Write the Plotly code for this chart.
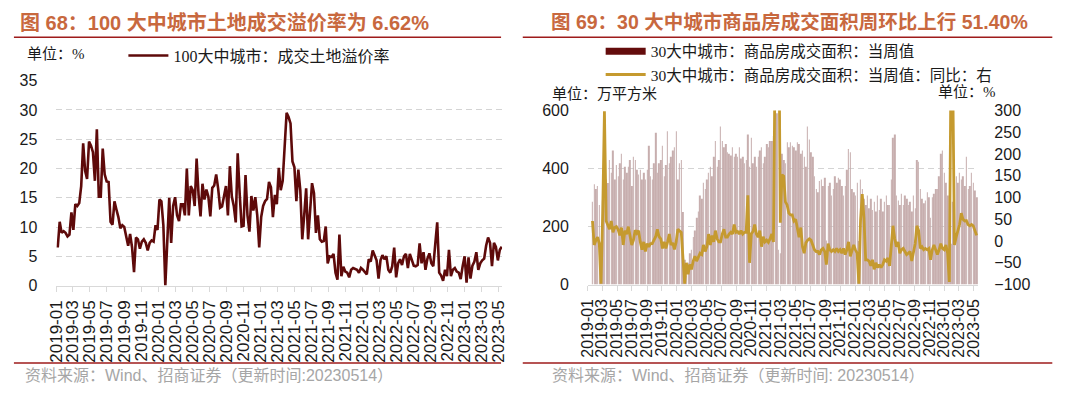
import pandas as pd
import plotly.graph_objects as go

W, H = 1080, 396


def px(x):
    return x / W


def py(y):
    return 1 - y / H


# ---------------- data ----------------
# Left: 100 large & medium cities, land transaction premium rate (%), weekly
premium_pct = [
    6.5, 10.9, 9, 9.3, 9, 8.4, 8.7, 12.5, 9.5, 13.9, 13.6, 14.1, 17, 24.3, 19.6, 18.2, 24.6, 23.9, 22.8, 17.9,
    26.7, 15.2, 15.2, 23.4, 19, 17.8, 17.7, 10.9, 10.4, 14.4, 13, 11.7, 9.8, 10.3, 10, 8.2, 6.8, 8.8, 6.5, 2.3,
    8.2, 7.9, 6.3, 7.5, 7.9, 7.3, 6, 7.3, 7.7, 7.5, 10.3, 9.5, 14.7, 14.4, 10.3, 0,
    8.2, 15, 7.3, 13.6, 15.1, 12, 11, 13.9, 13.9, 12, 20, 12, 17, 16.3, 13.6, 21.7, 15.5, 11.8, 17.4, 14.7,
    16.4, 15.2, 11.8, 16.7, 17.1, 19, 16.6, 13.3, 13.5, 15.2, 17, 12, 20.4, 15.2, 13.6, 10.8, 22.6, 15.8, 10.1, 10.2,
    18.9, 12, 9.2, 15.3, 12.8, 15.1, 12, 6.5, 11.7, 13.6, 14.4, 14.8, 17.7, 16.8, 11.7,
    15.5, 13.9, 20.1, 16.3, 17.9, 22.8, 29.5, 28.8, 27.7, 21.2, 20.2, 14.4, 19.8, 16.3, 7.9, 12, 16.6, 7.9, 12.5, 17.5,
    15.8, 9, 12, 7.9, 7.5, 7.6, 10.1, 3.8, 5, 4.9, 5.4, 2.2, 1, 8.7, 1.6, 3.2, 2.4, 2.2, 1.4, 2.7,
    3, 2.8, 2.7, 2.2, 3, 2.7, 2.2, 1.9, 4.5, 4.1, 6, 5.2,
    4.3, 1.2, 4.3, 5.2, 4.5, 5, 2.7, 2.2, 3.3, 6.5, 1.4, 3.8, 4.5, 3.5, 5, 5.4, 3, 5.4, 4.3, 3.4,
    3.3, 3.5, 7.2, 3.8, 5.7, 2.7, 4.6, 5.5, 3.8, 3.3, 7.1, 10.8, 2.2, 1.7, 0.8, 2.7, 1.6, 6.1, 1.6, 2.7,
    3, 2.4, 2.2, 1.1, 3.3, 5, 0.5, 4.8, 1.2, 3.4, 4.1, 5.7, 2.7, 3.8, 4.3, 4.6, 6.8, 8.2, 7.3, 3.3,
    7.3, 6.6, 4.3, 6.1, 6.62,
]

# Right: 30 large & medium cities, weekly commodity housing transaction area (10k m2)
area_wan_m2 = [
    285, 346, 329, 340, 274, 60, 290, 300,
    362, 350, 429, 385, 462, 362, 412, 373, 418, 451, 362, 406, 385, 406, 429, 340, 440, 429,
    396, 379, 396, 362, 385, 362, 396, 478, 373, 362,
    418,
    523, 385, 418, 429, 478, 373, 412, 528, 418, 440, 462, 473, 528, 362, 418, 429, 250, 86, 31, 75,
    108, 120, 164, 186, 230, 252, 307, 296, 351, 329, 362, 385, 406, 373, 440, 495, 406, 429, 545, 495,
    473, 484, 456, 451, 445, 473, 440, 451, 440, 473, 434, 440, 418, 429, 517, 406, 506, 418, 440, 406,
    440, 462, 473, 418, 440, 484, 473, 495, 495, 512,
    600, 590, 120, 108,
    451, 429, 418, 490, 473, 490, 478, 473, 462, 490, 484, 451, 462,
    440, 406, 545, 500, 456, 440, 373, 329, 318, 357, 362, 340, 368, 152, 340, 351, 307, 329,
    373, 351, 368, 362, 340, 307, 340, 396, 467, 456, 329, 318, 307, 351,
    150, 362, 329, 296, 274, 307, 263, 296, 257, 285, 252, 307, 257, 296, 252, 285, 307, 274, 274, 362,
    506, 517, 307, 290, 274, 313, 274, 307, 296, 274, 285, 252, 307, 263, 429, 423, 329, 296, 280, 290,
    318, 301, 230, 301, 313, 329, 329, 373, 451, 462, 385, 351, 307, 53, 141, 285, 329, 373, 351, 385,
    362, 373, 340, 440, 329, 340, 385, 351, 324, 301,
]

# Right: year-on-year change of the weekly value (%), right axis
yoy_pct = [
    46, -9, 2, 9, -6, -98, 68, 298,
    46, 38, 27, 46, 20, 31, 33, 27, 13, 31, -9, 24, 16, 33, 13, -9, 2, 25,
    18, 24, -2, -20, -2, -24, -6, -13, -6, -6,
    2,
    10, 27, 10, 5, -17, -2, -17, -2, 16, -9, -4, -19, -2, 27, 24, 20, -39, -98, -50, -76,
    -54, -65, -46, -35, -46, -35, -28, -31, -9, -24, -13, 16, -9, 13, -2, 24, 5, -2, -2, 16,
    27, 9, 9, 16, 20, 16, 38, 20, 22, 16, 24, 16, 20, 20, 105, -50, 16, 22, 38, 16,
    9, 24, -13, 10, -2, 2, -3, 5, 16, -2,
    420, 900, 600, 42,
    152, 149, 90, 83, 64, 60, 60, 46, 50, 24, 9, 31, -13,
    -28, -4, 2, 5, 2, -9, -20, -24, -24, -31, -20, -17, -24, -54, -6, -20, -24, -20,
    -24, -17, -24, -20, -28, -17, -31, -20, -2, -35, -20, -9, -20, -28,
    -98, 46, 108, 53, -43, -43, -46, -57, -43, -65, -50, -61, -54, -61, -54, -43, -46, -39, -57, -6,
    35, 6, -13, -2, -28, -20, -17, -24, -31, -28, -24, -46, -24, -6, 35, 24, -17, -13, -20, -17,
    -20, -17, -43, -20, -9, -20, -31, -20, -6, -17, -20, -9, -28, -94, 420, 380, -9, 9, 24, 38,
    64, 50, 46, 47, 38, 35, 38, 35, 24, 13,
]

left_title = "图 68：100 大中城市土地成交溢价率为 6.62%"
right_title = "图 69：30 大中城市商品房成交面积周环比上行 51.40%"
left_series = "100大中城市：成交土地溢价率"
bar_series = "30大中城市：商品房成交面积：当周值"
line_series = "30大中城市：商品房成交面积：当周值：同比：右"
left_unit = "单位：%"
right_unit_l = "单位：万平方米"
right_unit_r = "单位：%"
source_l = "资料来源：Wind、招商证券（更新时间:20230514）"
source_r = "资料来源：Wind、招商证券（更新时间: 20230514）"

assert len(area_wan_m2) == len(yoy_pct)

dates_l = pd.date_range(end="2023-05-14", periods=len(premium_pct), freq="7D")
dates_r = pd.date_range(end="2023-05-14", periods=len(area_wan_m2), freq="7D")

# ---------------- styles ----------------
MAROON = "#5E0A0A"
GOLD = "#C59A2F"
BAR = "#C7AEAE"
GRID = "#D4D4D4"
AXIS = "#D9D9D9"
TITLE_C = "#C8683E"
RULE = "#9E1B1B"
SANS = "Liberation Sans, Noto Sans CJK SC"
SERIF = "Liberation Serif, Noto Sans CJK SC"
TXT = "#1a1a1a"

fig = go.Figure()
fig.add_trace(go.Scatter(x=dates_l, y=premium_pct, mode="lines", name=left_series,
                         line=dict(color=MAROON, width=2.6), xaxis="x", yaxis="y", legend="legend"))
fig.add_trace(go.Bar(x=dates_r, y=area_wan_m2, marker=dict(color=BAR, line=dict(width=0)),
                     showlegend=False, xaxis="x2", yaxis="y2"))
fig.add_trace(go.Scatter(x=[None], y=[None], mode="lines", name=bar_series,
                         line=dict(color="#640C0C", width=7), xaxis="x2", yaxis="y2", legend="legend2"))
fig.add_trace(go.Scatter(x=dates_r, y=yoy_pct, mode="lines", name=line_series,
                         line=dict(color=GOLD, width=2.8), xaxis="x2", yaxis="y3", legend="legend2"))

xcommon = dict(type="date", tick0="2019-01-01", dtick="M2", tickformat="%Y-%m", tickangle=-90,
               ticks="outside", ticklen=5, tickcolor=AXIS, showline=True, linecolor=AXIS,
               showgrid=False, zeroline=False, ticklabelstandoff=2)

fig.update_layout(
    width=W, height=H, autosize=False,
    margin=dict(l=0, r=0, t=0, b=0),
    paper_bgcolor="white", plot_bgcolor="white",
    bargap=0.72,
    xaxis=dict(domain=[px(48), px(500)], anchor="y", range=["2019-01-01", "2023-05-15"],
               tickfont=dict(family=SANS, size=17, color=TXT), **xcommon),
    yaxis=dict(domain=[py(290), py(76)], anchor="x", range=[0, 35], dtick=5,
               showgrid=True, gridcolor=GRID, griddash="6px,4px", zeroline=False, showline=False,
               tickfont=dict(family=SANS, size=16, color=TXT), ticklabelstandoff=18),
    xaxis2=dict(domain=[px(587), px(983)], anchor="y2", range=["2019-01-01", "2023-05-21"],
                tickfont=dict(family=SANS, size=16, color=TXT), **xcommon),
    yaxis2=dict(domain=[py(289), py(107)], anchor="x2", range=[0, 600], dtick=200,
                showgrid=True, gridcolor=GRID, griddash="6px,4px", zeroline=False, showline=False,
                tickfont=dict(family=SANS, size=16, color=TXT), ticklabelstandoff=18),
    yaxis3=dict(overlaying="y2", anchor="x2", side="right", range=[-100, 300], dtick=50,
                showgrid=False, zeroline=False, showline=False,
                tickfont=dict(family=SANS, size=16, color=TXT), ticklabelstandoff=15),
    legend=dict(x=px(116), y=py(32), xanchor="left", yanchor="top", orientation="h",
                bgcolor="rgba(0,0,0,0)", itemwidth=40,
                font=dict(family=SERIF, size=16, color=TXT)),
    legend2=dict(x=px(600), y=py(28), xanchor="left", yanchor="top", orientation="v",
                 bgcolor="rgba(0,0,0,0)", itemwidth=40, tracegroupgap=0,
                 font=dict(family=SERIF, size=15.5, color=TXT)),
)

ann = [
    dict(text="<b>" + left_title + "</b>", x=px(9), y=py(15), font=dict(family=SANS, size=20, color=TITLE_C)),
    dict(text="<b>" + right_title + "</b>", x=px(548), y=py(15), font=dict(family=SANS, size=19.5, color=TITLE_C)),
    dict(text=left_unit, x=px(16), y=py(48), font=dict(family=SERIF, size=15, color=TXT)),
    dict(text=right_unit_l, x=px(549), y=py(90), font=dict(family=SERIF, size=15, color=TXT)),
    dict(text=right_unit_r, x=px(940), y=py(88), font=dict(family=SERIF, size=15, color=TXT)),
    dict(text=source_l, x=px(14), y=py(384), font=dict(family=SANS, size=16, color="#A6A6A6")),
    dict(text=source_r, x=px(549), y=py(384), font=dict(family=SANS, size=16, color="#A6A6A6")),
]
for a in ann:
    fig.add_annotation(xref="paper", yref="paper", xanchor="left", yanchor="middle",
                       showarrow=False, **a)

for (x0, x1) in [(5, 499), (521, 1058)]:
    for yy in (30.5, 371):
        fig.add_shape(type="line", xref="paper", yref="paper", x0=px(x0), x1=px(x1),
                      y0=py(yy), y1=py(yy), line=dict(color=RULE, width=1.5))

fig.write_html("out.html", include_plotlyjs=True, config={"displayModeBar": False},
               post_script="document.body.style.margin='0';document.body.style.overflow='hidden';")
